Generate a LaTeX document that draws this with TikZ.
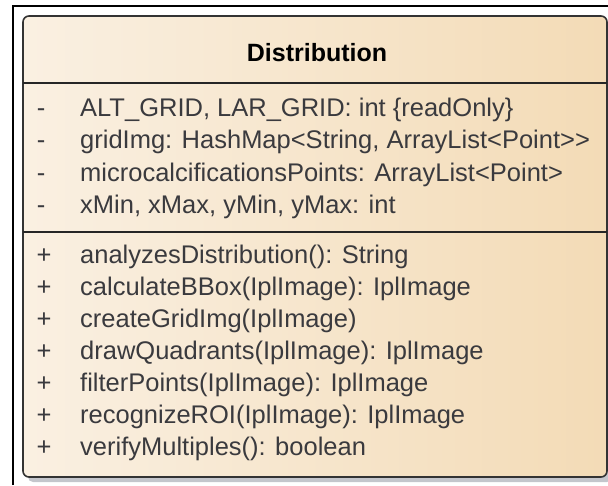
\documentclass[tikz,border=0pt]{standalone}
\usepackage{fontspec}
\setmainfont{Liberation Sans}
\definecolor{fillL}{RGB}{250,240,226}
\definecolor{fillR}{RGB}{243,219,182}
\definecolor{txt}{RGB}{58,58,62}
\definecolor{shadowc}{RGB}{196,198,204}
\begin{document}
\begin{tikzpicture}[x=1pt,y=-1pt,
  member/.style={anchor=base west,inner sep=0pt,text=txt,font=\fontsize{25.5}{30}\selectfont},
  vis/.style={anchor=base,inner sep=0pt,text=txt,font=\fontsize{25.5}{30}\selectfont},
  sep/.style={line width=2.2pt,draw=black!85}]
\useasboundingbox (0,0) rectangle (608,485);
% outer frame (cropped)
\draw[line width=2pt] (13,485) -- (13,6) -- (608,6);
% shadow
\fill[shadowc,rounded corners=5pt] (28,466) rectangle (612,482);
% class box
\shade[left color=fillL,right color=fillR,rounded corners=6pt] (23,16) rectangle (607,477);
\draw[line width=1.6pt,draw=black!80,rounded corners=6pt] (23,16) rectangle (607,477);
\coordinate (hL) at (23,83); \coordinate (hR) at (607,83);
\coordinate (aL) at (23,232); \coordinate (aR) at (607,232);
\draw[sep] (hL) -- (hR);
\draw[sep] (aL) -- (aR);
% title
\node[anchor=base,inner sep=0pt,font=\bfseries\fontsize{25}{30}\selectfont] (title) at (317,61) {Distribution};
% attributes
\foreach \y/\t [count=\i] in {116/{ALT\_GRID, LAR\_GRID: int \{readOnly\}},
  148/{gridImg: HashMap<String, ArrayList<Point\mbox{>}\mbox{>}},
  181/{microcalcificationsPoints: ArrayList<Point>},
  213/{xMin, xMax, yMin, yMax: int}} {
  \node[vis] (av\i) at (41,\y) {-};
  \node[member] (a\i) at (80,\y) {\t};
}
% operations
\foreach \y/\t [count=\i] in {263/{analyzesDistribution(): String},
  295/{calculateBBox(IplImage): IplImage},
  327/{createGridImg(IplImage)},
  359/{drawQuadrants(IplImage): IplImage},
  391/{filterPoints(IplImage): IplImage},
  423/{recognizeROI(IplImage): IplImage},
  455/{verifyMultiples(): boolean}} {
  \node[vis] (ov\i) at (44,\y) {+};
  \node[member] (o\i) at (80,\y) {\t};
}
\end{tikzpicture}
\end{document}
